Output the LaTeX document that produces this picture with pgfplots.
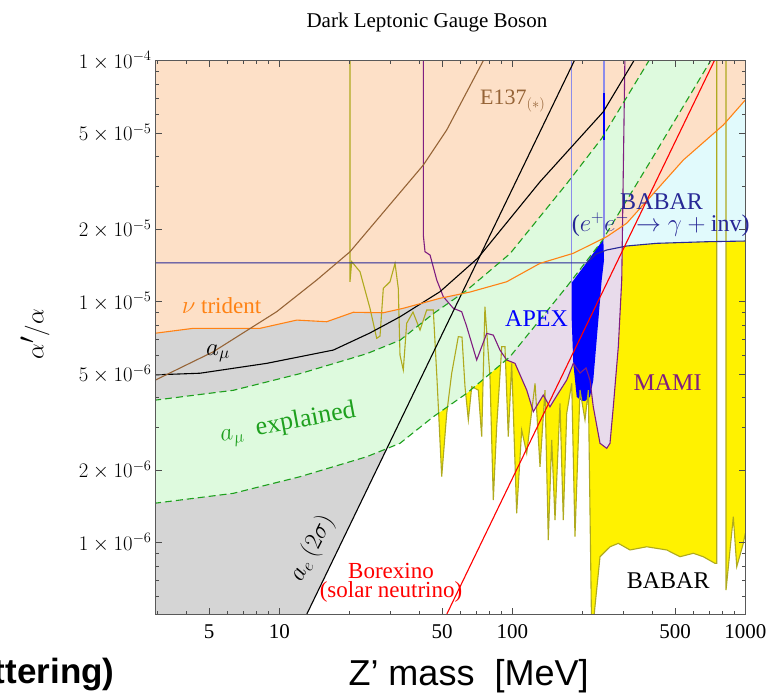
\documentclass[border=0pt]{standalone}
\usepackage{fontspec}
\setmainfont{Liberation Serif}
\newfontfamily\sansfont{Liberation Sans}
\usepackage{pgfplots}
\pgfplotsset{compat=1.18}
\definecolor{peach}{RGB}{253,224,199}
\definecolor{lgray}{RGB}{213,213,213}
\definecolor{lgreen}{RGB}{222,250,222}
\definecolor{lav}{RGB}{232,219,235}
\definecolor{lcyan}{RGB}{225,250,252}
\definecolor{olive2}{RGB}{175,170,30}
\definecolor{purp}{RGB}{128,30,128}
\definecolor{navy2}{RGB}{40,40,150}
\definecolor{lblue}{RGB}{140,140,235}
\definecolor{orng}{RGB}{255,130,20}
\definecolor{brwn}{RGB}{150,100,55}
\definecolor{dgreen}{RGB}{30,160,30}
\begin{document}
\begin{tikzpicture}
\path[use as bounding box] (0pt,0pt) rectangle (775pt,694pt);
\begin{axis}[
  at={(155.7pt,79.7pt)}, anchor=south west,
  scale only axis, width=589.6pt, height=553.6pt,
  xmode=log, ymode=log,
  xmin=2.948, xmax=1000, ymin=5.045e-7, ymax=1e-4,
  axis on top,
  xtick={5,10,50,100,500,1000},
  xticklabels={5,10,50,100,500,1000},
  minor xtick={3,4,6,7,8,9,20,30,40,60,70,80,90,200,300,400,600,700,800,900},
  ytick={1e-6,2e-6,5e-6,1e-5,2e-5,5e-5,1e-4},
  yticklabels={$1\times10^{-6}$,$2\times10^{-6}$,$5\times10^{-6}$,$1\times10^{-5}$,$2\times10^{-5}$,$5\times10^{-5}$,$1\times10^{-4}$},
  minor ytick={6e-7,7e-7,8e-7,9e-7,3e-6,4e-6,6e-6,7e-6,8e-6,9e-6,3e-5,4e-5,6e-5,7e-5,8e-5,9e-5},
  tick align=inside,
  major tick length=6pt, minor tick length=3.5pt,
  every tick/.style={gray!60!black, line width=0.6pt},
  axis line style={gray!70!black, line width=0.8pt},
  tick label style={font=\fontsize{21}{24}\selectfont},
  yticklabel style={font=\fontsize{22}{24}\selectfont, inner sep=0pt, xshift=-4pt},
  xticklabel style={inner sep=0pt, yshift=-10pt},
]
% yellow: region above the olive limit curve
\addplot[fill=yellow, draw=none] coordinates {
(20.11,1.1e-4)(20.11,1.21e-5)(20.45,1.466e-5)(22.2,1.332e-5)(24.5,9.39e-6)(26.18,7.05e-6)(27.05,7.2e-6)(27.95,1.136e-5)(29.86,1.21e-5)(31.38,1.443e-5)(32.41,1.136e-5)(32.96,6.01e-6)(34.05,5.21e-6)(35.22,8.14e-6)(37.48,9.06e-6)(40.18,7.63e-6)(42.92,9.24e-6)(45.8,9.24e-6)(47.53,4.73e-6)(49.77,1.879e-6)(52.3,3.442e-6)(54.94,5.05e-6)(58.65,7.16e-6)(60.83,7.13e-6)(62.66,4.44e-6)(64.75,3.23e-6)(66.96,4.44e-6)(71.46,4.30e-6)(73.9,2.754e-6)(76.3,9.53e-6)(80.2,4.885e-6)(82.88,1.504e-6)(85.7,3.03e-6)(90.1,6.51e-6)(93.0,6.51e-6)(96.1,2.754e-6)(99.4,5.55e-6)(104.4,1.324e-6)(109.7,2.935e-6)(115.3,2.35e-6)(125.2,4.585e-6)(131.5,2.067e-6)(138.1,4.30e-6)(142.7,1.026e-6)(147.6,2.67e-6)(152.5,1.242e-6)(160.2,3.789e-6)(165.5,1.242e-6)(171.2,3.442e-6)(179.9,4.585e-6)(185.8,1.059e-6)(195.3,4.30e-6)(205.1,3.23e-6)(212.0,4.30e-6)(219.2,4.0e-7)(237.9,8.746e-7)(262.6,9.62e-7)(285.1,9.94e-7)(320.0,9.33e-7)(377.5,9.62e-7)(460.0,9.33e-7)(524.4,8.746e-7)(598.4,9.04e-7)(660.3,8.746e-7)(741.3,8.21e-7)(753.9,8.21e-7)(753.9,1.1e-4)(826.5,1.1e-4)(826.5,6.36e-7)(888.3,1.282e-6)(918.9,7.95e-7)(980.4,9.94e-7)(1000,1.094e-6)(1000,1.1e-4)} -- cycle;
% light cyan: above BABAR (e+e- -> gamma + inv)
\addplot[fill=lcyan, draw=none] coordinates {
(2.9,1.45e-5)(208.6,1.45e-5)(228.6,1.577e-5)(254.2,1.639e-5)(309.7,1.703e-5)(416.6,1.747e-5)(682.9,1.774e-5)(1000,1.786e-5)(1000,1.1e-4)(2.9,1.1e-4)} -- cycle;
% lavender: MAMI / APEX
\addplot[fill=lav, draw=none] coordinates {
(41.5,1.1e-4)(41.5,1.891e-5)(42.2,1.612e-5)(44.36,1.562e-5)(47.4,1.23e-5)(50.57,1.049e-5)(55.83,9.39e-6)(60.65,9.09e-6)(63.74,7.88e-6)(70.33,5.73e-6)(77.66,7.39e-6)(82.88,7.27e-6)(88.54,6.30e-6)(94.6,5.73e-6)(102.7,5.55e-6)(115.3,4.30e-6)(123.1,3.497e-6)(135.8,4.10e-6)(145.1,3.665e-6)(157.5,4.168e-6)(171.2,4.73e-6)(182.7,5.55e-6)(195.3,5.06e-6)(207.2,5.31e-6)(215.5,4.73e-6)(222.6,3.665e-6)(237.9,2.585e-6)(254.2,2.464e-6)(262.6,2.585e-6)(271.3,3.665e-6)(285.1,6.51e-6)(294.9,1.23e-5)(304.6,1.1e-4)} -- cycle;
% blue APEX area
\addplot[fill=blue, draw=none] coordinates {
(179.9,1.2e-5)(209.3,1.46e-5)(245.8,1.82e-5)(247.5,1.489e-5)(241.9,1.23e-5)(232.1,7.63e-6)(222.6,4.73e-6)(215.5,4.03e-6)(205.1,3.87e-6)(198.6,3.88e-6)(189.0,4.03e-6)(182.7,5.55e-6)(179.9,8.39e-6)} -- cycle;
% gray: a_e excluded (left of line)
\addplot[fill=lgray, draw=none] coordinates {
(2.9,4.5e-7)(12.4,4.513e-7)(186,1.0155e-4)(186,1.1e-4)(2.9,1.1e-4)} -- cycle;
% gray: a_mu excluded (above curve)
\addplot[fill=lgray, draw=none] coordinates {
(2.9,4.97e-6)(4.567,5.05e-6)(8.83,5.55e-6)(17.05,6.30e-6)(24.5,7.42e-6)(32.96,8.66e-6)(48.9,1.10e-5)(71.2,1.518e-5)(131.5,3.146e-5)(245.8,6.14e-5)(330.5,9.9e-5)(353,1.1e-4)(2.9,1.1e-4)} -- cycle;
% peach: above nu trident
\addplot[fill=peach, draw=none] coordinates {
(2.9,7.39e-6)(4.274,7.755e-6)(8.264,7.755e-6)(11.88,8.39e-6)(15.97,8.26e-6)(20.78,9.04e-6)(27.95,9.0e-6)(34.05,9.39e-6)(48.9,1.033e-5)(65.85,1.097e-5)(94.6,1.21e-5)(131.5,1.443e-5)(182.7,1.588e-5)(254.2,1.861e-5)(309.7,2.116e-5)(409.7,2.86e-5)(542.0,3.873e-5)(804.5,5.41e-5)(1000,6.87e-5)(1000,1.1e-4)(2.9,1.1e-4)} -- cycle;
% green band: a_mu explained
\addplot[fill=lgreen, draw=none] coordinates {
(2.9,3.90e-6)(6.348,4.29e-6)(12.27,5.03e-6)(23.72,6.085e-6)(32.96,6.92e-6)(45.8,8.92e-6)(63.74,1.115e-5)(97.7,1.582e-5)(171.2,3.088e-5)(241.9,4.76e-5)(389.9,1.017e-4)(420.7,1.15e-4)(773,1.15e-4)(705.6,9.91e-5)(389.9,3.80e-5)(241.9,1.78e-5)(171.2,1.154e-5)(97.7,5.911e-6)(63.74,4.168e-6)(45.8,3.332e-6)(32.96,2.585e-6)(23.72,2.274e-6)(12.27,1.879e-6)(6.348,1.603e-6)(2.9,1.457e-6)} -- cycle;
% APEX boundary verticals
\addplot[lblue, line width=1.2pt] coordinates {(179.9,1.2e-5)(179.9,1.1e-4)};
\addplot[lblue, line width=1.2pt] coordinates {(247.5,1.85e-5)(247.5,1.1e-4)};
\addplot[blue, line width=1.2pt] coordinates {(247.5,4.69e-5)(247.5,7.32e-5)};
% olive limit line
\addplot[olive2, line width=1.1pt] coordinates {
(20.11,1.1e-4)(20.11,1.21e-5)(20.45,1.466e-5)(22.2,1.332e-5)(24.5,9.39e-6)(26.18,7.05e-6)(27.05,7.2e-6)(27.95,1.136e-5)(29.86,1.21e-5)(31.38,1.443e-5)(32.41,1.136e-5)(32.96,6.01e-6)(34.05,5.21e-6)(35.22,8.14e-6)(37.48,9.06e-6)(40.18,7.63e-6)(42.92,9.24e-6)(45.8,9.24e-6)(47.53,4.73e-6)(49.77,1.879e-6)(52.3,3.442e-6)(54.94,5.05e-6)(58.65,7.16e-6)(60.83,7.13e-6)(62.66,4.44e-6)(64.75,3.23e-6)(66.96,4.44e-6)(71.46,4.30e-6)(73.9,2.754e-6)(76.3,9.53e-6)(80.2,4.885e-6)(82.88,1.504e-6)(85.7,3.03e-6)(90.1,6.51e-6)(93.0,6.51e-6)(96.1,2.754e-6)(99.4,5.55e-6)(104.4,1.324e-6)(109.7,2.935e-6)(115.3,2.35e-6)(125.2,4.585e-6)(131.5,2.067e-6)(138.1,4.30e-6)(142.7,1.026e-6)(147.6,2.67e-6)(152.5,1.242e-6)(160.2,3.789e-6)(165.5,1.242e-6)(171.2,3.442e-6)(179.9,4.585e-6)(185.8,1.059e-6)(195.3,4.30e-6)(205.1,3.23e-6)(212.0,4.30e-6)(219.2,4.0e-7)(237.9,8.746e-7)(262.6,9.62e-7)(285.1,9.94e-7)(320.0,9.33e-7)(377.5,9.62e-7)(460.0,9.33e-7)(524.4,8.746e-7)(598.4,9.04e-7)(660.3,8.746e-7)(741.3,8.21e-7)(753.9,8.21e-7)(753.9,1.1e-4)};
\addplot[olive2, line width=1.1pt] coordinates {
(826.5,1.1e-4)(826.5,6.36e-7)(888.3,1.282e-6)(918.9,7.95e-7)(980.4,9.94e-7)(1000,1.094e-6)};
% purple MAMI boundary
\addplot[purp, line width=1.1pt] coordinates {
(41.5,1.1e-4)(41.5,1.891e-5)(42.2,1.612e-5)(44.36,1.562e-5)(47.4,1.23e-5)(50.57,1.049e-5)(55.83,9.39e-6)(60.65,9.09e-6)(63.74,7.88e-6)(70.33,5.73e-6)(77.66,7.39e-6)(82.88,7.27e-6)(88.54,6.30e-6)(94.6,5.73e-6)(102.7,5.55e-6)(115.3,4.30e-6)(123.1,3.497e-6)(135.8,4.10e-6)(145.1,3.665e-6)(157.5,4.168e-6)(171.2,4.73e-6)(182.7,5.55e-6)(195.3,5.06e-6)(207.2,5.31e-6)(215.5,4.73e-6)(222.6,3.665e-6)(237.9,2.585e-6)(254.2,2.464e-6)(262.6,2.585e-6)(271.3,3.665e-6)(285.1,6.51e-6)(294.9,1.23e-5)(304.6,1.1e-4)};
% BABAR blue line
\addplot[navy2, line width=1.1pt] coordinates {
(2.9,1.45e-5)(208.6,1.45e-5)(228.6,1.577e-5)(254.2,1.639e-5)(309.7,1.703e-5)(416.6,1.747e-5)(682.9,1.774e-5)(1000,1.786e-5)};
% a_mu line
\addplot[black, line width=1.1pt] coordinates {
(2.9,4.97e-6)(4.567,5.05e-6)(8.83,5.55e-6)(17.05,6.30e-6)(24.5,7.42e-6)(32.96,8.66e-6)(48.9,1.10e-5)(71.2,1.518e-5)(131.5,3.146e-5)(245.8,6.14e-5)(330.5,9.9e-5)(353,1.1e-4)};
% a_e line
\addplot[black, line width=1.1pt] coordinates {(12.4,4.513e-7)(186,1.0155e-4)};
% green dashed band edges
\addplot[dgreen, line width=1.1pt, dash pattern=on 7pt off 4pt] coordinates {
(2.9,3.90e-6)(6.348,4.29e-6)(12.27,5.03e-6)(23.72,6.085e-6)(32.96,6.92e-6)(45.8,8.92e-6)(63.74,1.115e-5)(97.7,1.582e-5)(171.2,3.088e-5)(241.9,4.76e-5)(389.9,1.017e-4)(420.7,1.15e-4)};
\addplot[dgreen, line width=1.1pt, dash pattern=on 7pt off 4pt] coordinates {
(2.9,1.457e-6)(6.348,1.603e-6)(12.27,1.879e-6)(23.72,2.274e-6)(32.96,2.585e-6)(45.8,3.332e-6)(63.74,4.168e-6)(97.7,5.911e-6)(171.2,1.154e-5)(241.9,1.78e-5)(389.9,3.80e-5)(705.6,9.91e-5)(773,1.15e-4)};
% nu trident
\addplot[orng, line width=1.1pt] coordinates {
(2.9,7.39e-6)(4.274,7.755e-6)(8.264,7.755e-6)(11.88,8.39e-6)(15.97,8.26e-6)(20.78,9.04e-6)(27.95,9.0e-6)(34.05,9.39e-6)(48.9,1.033e-5)(65.85,1.097e-5)(94.6,1.21e-5)(131.5,1.443e-5)(182.7,1.588e-5)(254.2,1.861e-5)(309.7,2.116e-5)(409.7,2.86e-5)(542.0,3.873e-5)(804.5,5.41e-5)(1000,6.87e-5)};
% E137
\addplot[brwn, line width=1.1pt] coordinates {
(2.9,4.70e-6)(5.208,6.20e-6)(9.745,9.09e-6)(14.47,1.23e-5)(20.11,1.612e-5)(41.5,3.69e-5)(52.3,5.16e-5)(75.07,1e-4)(78,1.07e-4)};
% Borexino
\addplot[red, line width=1.1pt] coordinates {(48,4.25e-7)(760,1.065e-4)};
\end{axis}
% title and axis labels
\node[anchor=base west, font=\fontsize{21}{24}\selectfont] at (303pt,666.7pt) {Dark Leptonic Gauge Boson};
\node[rotate=90, font=\fontsize{38}{40}\selectfont] at (35pt,360pt) {$\alpha'/\alpha$};
\node[anchor=base west, font=\sansfont\fontsize{36}{40}\selectfont] at (345pt,9pt) {Z’ mass\ \ [MeV]};
\node[anchor=base east, font=\sansfont\bfseries\fontsize{35}{40}\selectfont] at (118pt,11pt) {scattering)};
% annotations
\node[anchor=base west, text=orng, font=\fontsize{23}{26}\selectfont] at (178.3pt,380.7pt) {$\nu$ trident};
\node[anchor=base west, font=\fontsize{25}{28}\selectfont] at (202.7pt,339pt) {$a_{\mu}$};
\node[rotate=10.5, text=dgreen, font=\fontsize{26}{28}\selectfont] at (288pt,270pt) {$a_{\mu}$\ \ explained};
\node[rotate=63, font=\fontsize{24}{28}\selectfont, inner sep=0pt] at (312pt,146pt) {$a_e\ (2\sigma)$};
\node[anchor=base, text=red, font=\fontsize{23}{26}\selectfont] at (391pt,115.7pt) {Borexino};
\node[anchor=base, text=red, font=\fontsize{23}{26}\selectfont] at (391pt,96.7pt) {(solar neutrino)};
\node[anchor=base west, text=blue, font=\fontsize{24}{28}\selectfont] at (501.7pt,367.3pt) {APEX};
\node[anchor=base west, text=purp, font=\fontsize{24}{28}\selectfont] at (630pt,304pt) {MAMI};
\node[anchor=base west, font=\fontsize{24}{28}\selectfont] at (623.3pt,105.7pt) {BABAR};
\node[anchor=base west, text=navy2, font=\fontsize{24}{28}\selectfont] at (616.7pt,484pt) {BABAR};
\node[anchor=base west, text=navy2, font=\fontsize{24}{28}\selectfont] at (568.3pt,462.3pt) {($e^{+}e^{-}\to\gamma+{}$inv)};
\node[anchor=base west, text=brwn, font=\fontsize{22}{26}\selectfont] at (476.7pt,589pt) {E137$_{(*)}$};
\end{tikzpicture}
\end{document}
